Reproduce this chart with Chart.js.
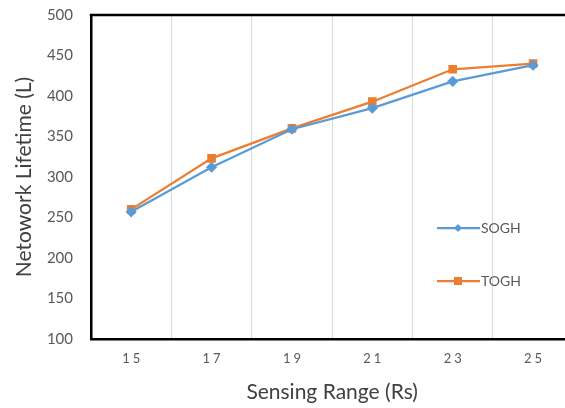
<!DOCTYPE html>
<html>
<head>
<meta charset="utf-8">
<script src="https://cdn.jsdelivr.net/npm/chart.js@4/dist/chart.umd.min.js"></script>
<style>
html,body{margin:0;padding:0;background:#fff;overflow:hidden;}
#wrap{width:565px;height:408px;overflow:hidden;position:relative;}
canvas{display:block;}
</style>
</head>
<body>
<div id="wrap"><canvas id="c" width="580" height="408"></canvas></div>
<script>
const categories = ['15', '17', '19', '21', '23', '25'];
const soghValues = [257, 312, 359, 385, 418, 438];
const toghValues = [260, 323, 360, 393, 433, 440];
const seriesNames = ['SOGH', 'TOGH'];
const yTicks = [100, 150, 200, 250, 300, 350, 400, 450, 500];

const BLUE = '#5B9BD5';
const ORANGE = '#ED7D31';
const FONT = 'Lato, "Open Sans", sans-serif';

const framePlugin = {
  id: 'frame',
  afterDraw(chart) {
    const {ctx, chartArea: a} = chart;
    ctx.save();
    ctx.strokeStyle = '#000';
    ctx.lineWidth = 2.5;
    ctx.beginPath();
    ctx.moveTo(a.left - 1.25, a.top);
    ctx.lineTo(a.right + 10, a.top);
    ctx.stroke();
    // x tick labels (letter-spaced)
    const xs = chart.scales.x;
    ctx.fillStyle = '#595959';
    ctx.font = '13px ' + FONT;
    ctx.textBaseline = 'middle';
    ctx.textAlign = 'center';
    try { ctx.letterSpacing = '3px'; } catch (e) {}
    categories.forEach((c, i) => {
      ctx.fillText(c, xs.getPixelForValue(i) + 1.5, a.bottom + 20);
    });
    try { ctx.letterSpacing = '0px'; } catch (e) {}
    // legend
    const items = [
      {name: seriesNames[0], color: BLUE, y: 228, shape: 'diamond'},
      {name: seriesNames[1], color: ORANGE, y: 281, shape: 'square'}
    ];
    items.forEach(it => {
      ctx.strokeStyle = it.color;
      ctx.lineWidth = 2.25;
      ctx.beginPath();
      ctx.moveTo(437, it.y);
      ctx.lineTo(480, it.y);
      ctx.stroke();
      ctx.fillStyle = it.color;
      ctx.beginPath();
      if (it.shape === 'diamond') {
        ctx.moveTo(458, it.y - 4); ctx.lineTo(462, it.y); ctx.lineTo(458, it.y + 4); ctx.lineTo(454, it.y);
        ctx.closePath(); ctx.fill();
      } else {
        ctx.fillRect(454, it.y - 4, 8, 8);
      }
      ctx.fillStyle = '#595959';
      ctx.font = '14px ' + FONT;
      ctx.textBaseline = 'middle';
      ctx.textAlign = 'left';
      ctx.fillText(it.name, 481, it.y);
    });
    ctx.restore();
  }
};

new Chart(document.getElementById('c'), {
  type: 'line',
  data: {
    labels: categories,
    datasets: [
      {label: seriesNames[0], data: soghValues, borderColor: BLUE, backgroundColor: BLUE,
       borderWidth: 2.25, pointStyle: 'rectRot', pointRadius: 4, pointHoverRadius: 4, tension: 0},
      {label: seriesNames[1], data: toghValues, borderColor: ORANGE, backgroundColor: ORANGE,
       borderWidth: 2.25, pointStyle: 'rect', pointRadius: 4.5, pointHoverRadius: 4.5, tension: 0}
    ]
  },
  options: {
    responsive: false,
    animation: false,
    events: [],
    layout: {padding: {left: 0, right: 6, top: 15, bottom: 0}},
    plugins: {legend: {display: false}, tooltip: {enabled: false}},
    scales: {
      x: {
        offset: true,
        grid: {display: true, offset: true, color: '#d9d9d9', lineWidth: 1, drawTicks: false},
        border: {display: true, color: '#000', width: 2.5},
        ticks: {display: false},
        title: {display: true, text: 'Sensing Range (Rs)', color: '#404040',
                font: {family: FONT, size: 21}, padding: {top: 8, bottom: 3}},
        afterFit(s) { s.height = 69; s.paddingLeft = 0; s.paddingRight = 0; }
      },
      y: {
        min: 100, max: 500,
        afterBuildTicks(s) { s.ticks = yTicks.map(v => ({value: v})); },
        grid: {display: false, drawTicks: false},
        border: {display: true, color: '#000', width: 2.5},
        ticks: {color: '#595959', font: {family: FONT, size: 15}, padding: 18},
        title: {display: true, text: 'Netowork Lifetime (L)', color: '#404040',
                font: {family: FONT, size: 21}, padding: {top: 12, bottom: 4}},
        afterFit(s) { s.width = 91; s.paddingTop = 0; s.paddingBottom = 0; }
      }
    }
  },
  plugins: [framePlugin]
});
</script>
</body>
</html>
